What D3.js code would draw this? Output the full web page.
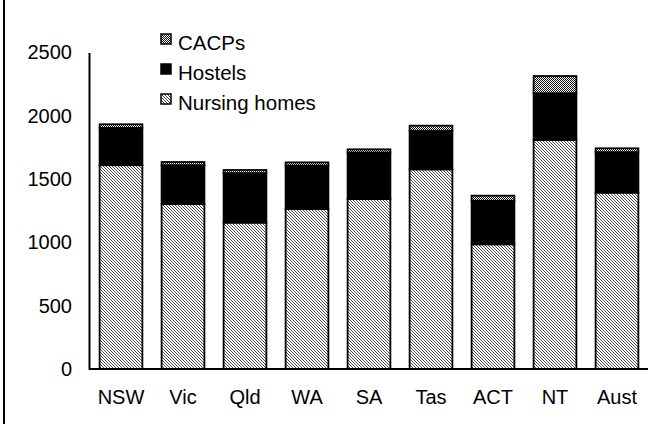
<!DOCTYPE html>
<html><head><meta charset="utf-8">
<script src="https://cdn.jsdelivr.net/npm/d3@7"></script>
<style>
html,body{margin:0;padding:0;background:#fff;}
svg{display:block;font-family:"Liberation Sans",Arial,sans-serif;}
</style></head>
<body>
<svg id="c" width="648" height="424"></svg>
<script>
const categories = ["NSW","Vic","Qld","WA","SA","Tas","ACT","NT","Aust"];
const nursingHomes = [1610,1303,1156,1264,1343,1577,985,1809,1393];
const hostels      = [294,307,391,343,367,305,344,369,320];
const cacps        = [29,25,25,25,25,40,40,136,30];
const yTicks = [0,500,1000,1500,2000,2500];
const seriesNames = ["Nursing homes","Hostels","CACPs"];
const legendOrder = ["CACPs","Hostels","Nursing homes"];

const svg = d3.select("#c");
const defs = svg.append("defs");

// Nursing homes: fine diagonal hatch
const p1 = defs.append("pattern").attr("id","pNH").attr("patternUnits","userSpaceOnUse")
  .attr("width",3).attr("height",3);
p1.append("rect").attr("width",3).attr("height",3).attr("fill","#fff");
[0,1,2].forEach(i=>p1.append("rect").attr("x",i).attr("y",i).attr("width",1).attr("height",1).attr("fill","#4a4a4a"));
// CACPs: dense checker
const p2 = defs.append("pattern").attr("id","pC").attr("patternUnits","userSpaceOnUse")
  .attr("width",2).attr("height",2);
p2.append("rect").attr("width",2).attr("height",2).attr("fill","#fff");
p2.append("rect").attr("x",0).attr("y",0).attr("width",1).attr("height",1).attr("fill","#111");
p2.append("rect").attr("x",1).attr("y",1).attr("width",1).attr("height",1).attr("fill","#111");

const fills = {"Nursing homes":"url(#pNH)","Hostels":"#000","CACPs":"url(#pC)"};

const x = d3.scaleBand().domain(categories).range([90,648]).paddingInner(0.31).paddingOuter(0.155);
const y = d3.scaleLinear().domain([0,2500]).range([369,52.5]);

// left frame line
svg.append("line").attr("x1",4).attr("x2",4).attr("y1",0).attr("y2",424)
  .attr("stroke","#000").attr("stroke-width",2);

const rows = categories.map((c,i)=>({cat:c,"Nursing homes":nursingHomes[i],"Hostels":hostels[i],"CACPs":cacps[i]}));
const stack = d3.stack().keys(seriesNames)(rows);

stack.forEach(s=>{
  svg.append("g").selectAll("rect").data(s).join("rect")
    .attr("x",d=>x(d.data.cat))
    .attr("width",x.bandwidth())
    .attr("y",d=>y(d[1]))
    .attr("height",d=>y(d[0])-y(d[1]))
    .attr("fill",fills[s.key])
    .attr("stroke","#000").attr("stroke-width",1.8);
});

// y axis
const ya = d3.axisLeft(y).tickValues(yTicks).tickSize(0).tickPadding(17).tickFormat(d3.format("d"));
const yg = svg.append("g").attr("transform","translate(89,0)").call(ya);
yg.select(".domain").attr("stroke","#000").attr("stroke-width",2);
yg.selectAll("text").attr("font-size",20).attr("fill","#000").attr("font-family","Liberation Sans, Arial, sans-serif");

// x axis
const xa = d3.axisBottom(x).tickSize(0).tickPadding(21);
const xg = svg.append("g").attr("transform","translate(0,369)").call(xa);
xg.select(".domain").attr("d","M89,0H648").attr("stroke","#000").attr("stroke-width",2);
xg.selectAll("text").attr("font-size",20).attr("fill","#000").attr("font-family","Liberation Sans, Arial, sans-serif");

// legend
const lg = svg.append("g").selectAll("g").data(legendOrder).join("g")
  .attr("transform",(d,i)=>`translate(161,${34+i*30})`);
lg.append("rect").attr("width",10).attr("height",10).attr("fill",d=>fills[d])
  .attr("stroke","#000").attr("stroke-width",1.5);
lg.append("text").attr("x",17).attr("y",16).attr("font-size",20.5).attr("fill","#000").text(d=>d);
</script>
</body></html>
